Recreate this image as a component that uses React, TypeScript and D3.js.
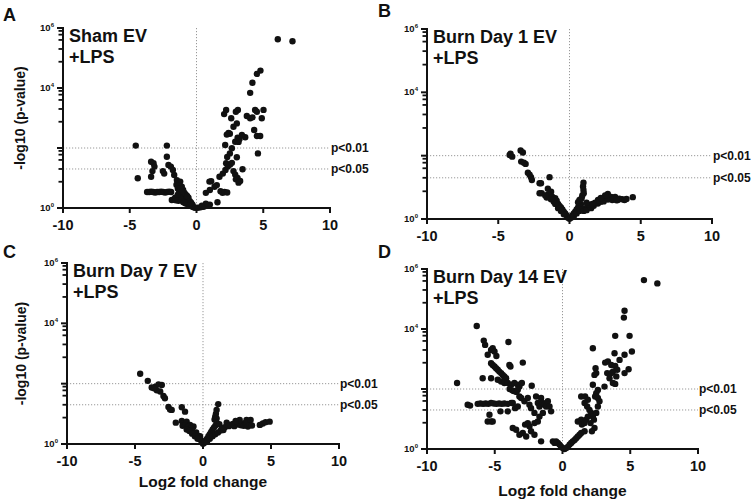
import React from 'react';
import * as d3 from 'd3';

// ---------- DATA ----------
// [log2 fold change, value on the log y axis]
const shamEV: [number, number][] = [
  [-4.55, 120], [-4.4, 9.8], [-2.22, 120], [-2.22, 51], [-3.4, 35], [-3.22, 31], [-3.15, 24], [-3.3, 17],
  [-3.4, 11], [-2.52, 17], [-2.42, 14], [-2.1, 27], [-1.92, 24], [-1.77, 18.5], [-1.67, 12.6], [-1.47, 8.5],
  [-1.22, 7.6], [-1.1, 5.1],
  [-3.7, 3.4], [-3.55, 3.4], [-3.4, 3.5], [-3.25, 3.4], [-3.1, 3.3], [-2.95, 3.4], [-2.8, 3.4], [-2.65, 3.5],
  [-2.5, 3.4], [-2.35, 3.3], [-2.2, 3.4], [-2.05, 3.5], [-1.9, 3.4],
  [-1.85, 1.85], [-1.7, 1.9], [-1.55, 1.8], [-1.35, 1.75],
  [-1.5, 6], [-1.35, 5.5], [-1.4, 4.5], [-1.3, 3.8], [-1.2, 3], [-1.1, 2.6], [-1.0, 2.2], [-0.9, 2],
  [-0.8, 1.8], [-0.7, 1.6], [-0.6, 1.4], [-0.5, 1.3], [-0.4, 1.2], [-0.3, 1.1], [-0.2, 1.05], [-1.0, 4],
  [-0.9, 3.2], [-0.8, 2.8], [-0.6, 2.2], [-1.2, 2], [-1.0, 1.6], [-0.8, 1.4], [-0.6, 1.2], [-1.6, 2.2],
  [-1.2, 4.5], [-1.1, 3.5], [-0.7, 2.5], [-0.5, 1.7], [-0.4, 1.5], [-0.3, 1.3], [-1.4, 2.8], [-0.9, 1.5],
  [-0.1, 1.02],
  [0.1, 1.02], [0.3, 1.05], [0.5, 1.1], [0.6, 1.15], [0.8, 1.2], [1.0, 1.3], [0.7, 1.4], [0.4, 1.2],
  [1.57, 1.55], [0.7, 3.2], [1.0, 4], [0.97, 7.6], [1.1, 7.8], [1.35, 5.1], [1.52, 5.8], [1.8, 3.6],
  [1.95, 3.2], [2.1, 3.4], [2.3, 3.3], [1.72, 11], [1.97, 14], [2.17, 18.5], [2.22, 31], [2.35, 24],
  [2.52, 28], [2.65, 32], [2.77, 17], [2.9, 13], [3.07, 10], [3.27, 8], [2.95, 9], [3.15, 7], [3.45, 19.5],
  [3.02, 49], [2.3, 50], [2.5, 66], [2.65, 98], [2.15, 126], [2.9, 162], [3.15, 160], [3.22, 200],
  [3.65, 228], [3.4, 270], [3.08, 220], [2.4, 316], [2.5, 300], [2.27, 280], [2.77, 513], [3.02, 660],
  [2.6, 977], [2.07, 1350], [2.22, 1860], [2.95, 1620], [3.1, 1860], [3.77, 1170], [4.02, 977],
  [4.19, 1050], [4.39, 1860], [4.52, 1620], [5.02, 1860], [4.89, 977], [4.32, 400], [4.52, 251],
  [4.77, 251], [4.6, 66], [4.02, 6900], [4.19, 15000], [4.52, 29500], [4.79, 38000], [6.09, 420000],
  [7.19, 360000],
];

const burnDay1EV: [number, number][] = [
  [-4.14, 115], [-4.02, 93], [-4.2, 105], [-3.43, 145], [-3.27, 126], [-3.39, 65], [-3.08, 55], [-3.2, 60],
  [-2.92, 29], [-2.8, 25], [-2.7, 21], [-2.64, 17], [-2.1, 13.5], [-2.0, 13.5], [-1.4, 21], [-2.1, 6.5],
  [-1.95, 6.5], [-1.52, 9], [-1.29, 7.3], [-1.5, 6], [-1.2, 5], [-1.0, 4.5], [-1.1, 3.5], [-0.9, 3.8],
  [-0.8, 3], [-0.7, 2.6], [-0.6, 2.3], [-0.5, 2], [-0.4, 1.7], [-0.3, 1.5], [-0.2, 1.3], [-0.1, 1.1],
  [-0.8, 2.2], [-0.6, 1.8], [-0.4, 1.4], [-1.3, 4.2], [-1.6, 4.8], [-1.7, 5.5], [-1.0, 3], [0, 1.02],
  [0.98, 14], [0.95, 10.6], [0.98, 8.3], [1.0, 6.5], [0.9, 5.5], [0.85, 4.5],
  [0.1, 1.1], [0.2, 1.3], [0.3, 1.5], [0.4, 1.7], [0.5, 2], [0.6, 2.3], [0.7, 2.6], [0.8, 3], [0.3, 1.2],
  [0.5, 1.5], [0.7, 1.8], [0.9, 2], [1.1, 2.2], [1.3, 2.4], [0.6, 3.4], [0.7, 4], [1.0, 1.8], [1.2, 1.9],
  [1.52, 2.2], [1.7, 2.6], [1.99, 3.1], [2.0, 4], [2.2, 3.5], [2.3, 4.2], [2.45, 4.5], [2.6, 5.1],
  [2.69, 6.2], [2.8, 4.8], [2.92, 5], [3.1, 4.6], [3.2, 5], [3.39, 4], [3.5, 4.4], [3.7, 4.2], [3.86, 4],
  [4.0, 4.3], [4.44, 4.9], [1.8, 3.3], [2.1, 3.8], [2.4, 3.6], [2.7, 4.1], [3.0, 4.0], [3.3, 3.9],
  [2.5, 5.5], [2.2, 4.6], [1.4, 2.8], [1.2, 3.3], [1.6, 3.0],
];

const burnDay7EV: [number, number][] = [
  [-4.62, 213], [-4.06, 124], [-3.77, 75], [-3.5, 80], [-3.27, 95], [-3.03, 90], [-3.15, 55], [-2.91, 39],
  [-2.8, 33], [-2.54, 17], [-2.42, 14], [-2.3, 13.5], [-1.56, 16.6], [-1.32, 11.8], [-2.0, 5.1],
  [-1.56, 5.8], [-1.44, 4.9], [-1.2, 5.5], [-0.95, 4.3], [-0.7, 3.8], [-0.5, 2.4], [-0.22, 1.8],
  [-1.5, 4], [-1.3, 4.2], [-1.1, 3.7], [-0.9, 3.2], [-0.8, 2.8], [-0.6, 2.3], [-0.4, 1.9], [-0.3, 1.6],
  [-0.2, 1.4], [-0.1, 1.2], [-1.2, 3], [-1.0, 2.7], [-0.8, 2.2], [-0.6, 1.8], [-0.4, 1.5], [-3.4, 60],
  [-3.6, 70], [0, 1.02],
  [1.12, 21], [1.0, 13.5], [0.95, 10], [0.9, 8], [0.85, 6.5], [1.0, 7],
  [0.1, 1.1], [0.2, 1.3], [0.3, 1.5], [0.4, 1.8], [0.5, 2.1], [0.6, 2.5], [0.7, 3], [0.8, 3.5], [0.9, 4],
  [0.3, 1.2], [0.5, 1.5], [0.7, 1.8], [0.9, 2.1], [1.1, 2.4], [1.3, 2.8], [1.0, 5], [1.2, 4.5], [1.4, 3.2],
  [1.74, 5.1], [1.6, 3.6], [1.9, 3.9], [2.0, 4.3], [2.2, 4.6], [2.3, 3.9], [2.4, 4.8], [2.5, 5.2],
  [2.6, 4.4], [2.7, 4.9], [2.8, 4.2], [2.9, 4.6], [3.0, 4.0], [3.1, 5.0], [3.2, 4.3], [3.3, 3.8],
  [3.4, 4.5], [2.7, 6.3], [3.2, 6.3], [3.5, 6.3], [2.4, 5.8], [4.18, 4.3], [4.4, 4.8], [4.6, 5.3],
  [4.9, 5.5], [3.6, 4.1], [1.5, 2.9],
];

const burnDay14EV: [number, number][] = [
  [6.01, 427000], [7.0, 331000], [4.58, 40700], [4.53, 24000], [3.89, 5900], [4.95, 5900], [2.24, 2290],
  [5.12, 1780], [3.84, 1550], [4.58, 1380], [4.21, 933], [3.35, 832], [3.15, 759], [3.6, 631], [3.89, 589],
  [4.88, 457], [4.04, 437], [3.72, 380], [3.3, 339], [3.6, 339], [4.58, 339], [2.44, 490], [2.49, 339],
  [2.36, 295], [3.97, 263], [3.47, 229], [3.72, 158], [3.89, 148], [2.24, 138], [3.1, 120], [2.61, 93],
  [2.49, 72], [2.41, 56], [2.61, 50], [2.73, 39], [1.38, 56], [1.67, 56], [1.87, 44], [1.63, 34],
  [1.82, 26], [1.99, 20], [2.12, 16], [2.24, 12], [2.32, 9.5], [2.49, 16], [2.61, 26], [1.13, 8.3],
  [1.38, 9.5], [1.43, 6.5], [1.63, 7.3], [1.75, 9.5], [1.87, 12], [2.07, 7.3], [2.36, 5], [2.17, 3.9],
  [0.52, 1.4], [0.64, 1.6], [0.76, 1.8], [0.89, 2], [1.01, 2.3], [1.13, 2.6], [1.26, 3], [1.38, 3.4],
  [1.63, 3.9], [-0.1, 1.2], [0.02, 1.07], [0.15, 1], [0.27, 1.07], [0.39, 1.17], [-0.22, 1.4],
  [-0.34, 1.6], [-0.47, 1.8], [-0.71, 1.8], [-0.59, 1.6],
  [-6.33, 12600], [-5.81, 4100], [-3.99, 3700], [-5.71, 2950], [-5.15, 2290], [-5.27, 2000],
  [-5.02, 1780], [-5.52, 1380], [-4.88, 1260], [-5.27, 724], [-5.15, 631], [-5.02, 562], [-4.9, 490],
  [-4.78, 437], [-4.66, 380], [-4.53, 339], [-4.41, 295], [-4.29, 263], [-4.16, 229], [-3.92, 631],
  [-3.84, 562], [-2.93, 759], [-5.89, 229], [-5.27, 229], [-4.78, 204], [-4.53, 178], [-4.29, 158],
  [-4.04, 158], [-3.79, 138], [-3.55, 158], [-3.3, 138], [-3.18, 120], [-3.0, 158], [-7.78, 158],
  [-2.27, 129], [-7.0, 30], [-6.82, 28],
  [-6.26, 32], [-6.06, 33], [-5.86, 32], [-5.67, 33], [-5.47, 32], [-5.27, 34], [-5.07, 33], [-4.88, 32],
  [-4.68, 33], [-4.48, 32], [-4.29, 33], [-4.04, 32], [-3.79, 34],
  [-5.39, 13.8], [-5.52, 8.3], [-5.27, 8.3], [-5.15, 8.3], [-4.58, 18], [-4.04, 18], [-3.67, 5],
  [-3.42, 4.4], [-3.18, 3], [-2.93, 3.4], [-2.68, 2.6], [-2.32, 3.9], [-2.07, 3], [-1.58, 1.8],
  [-2.44, 5.7], [-2.07, 7.3], [-1.82, 8.3], [-1.7, 12], [-1.45, 16], [-3.18, 56], [-3.05, 50],
  [-2.81, 39], [-2.56, 50], [-2.44, 30], [-2.32, 23], [-2.07, 16], [-1.95, 56], [-1.82, 34], [-1.7, 26],
  [-1.58, 50], [-1.45, 34], [-1.33, 30], [-1.21, 26], [-1.08, 39], [-0.96, 26], [-0.84, 18],
  [-3.67, 34], [-3.5, 23], [-3.3, 26], [-2.76, 6.5], [-2.56, 7.3],
  [-3.9, 100], [-3.7, 90], [-3.6, 85], [-3.4, 80], [-3.3, 95],
];

const xTicks = [-10, -5, 0, 5, 10];
const yMajorTicks = [1, 1e2, 1e4, 1e6];
const yLabelledTicks = [
  { value: 1, exp: '0' },
  { value: 1e4, exp: '4' },
  { value: 1e6, exp: '6' },
];
const yMinorFactors = [7.5, 20, 40, 60, 80];
const thresholds = [
  { label: 'p<0.01', value: 100 },
  { label: 'p<0.05', value: 20 },
];

// ---------- LAYOUT ----------
const FONT = "'Liberation Sans', Arial, Helvetica, sans-serif";

type Cfg = {
  letter: string; lx: number; ly: number;
  title: string;
  x0: number; x1: number; yTop: number; yBot: number;
  yLabelX?: number; xLabelY?: number;
  data: [number, number][];
};

const panels: Cfg[] = [
  { letter: 'A', lx: 3, ly: 21, title: 'Sham EV', x0: 63, x1: 330, yTop: 28, yBot: 208, yLabelX: 20, data: shamEV },
  { letter: 'B', lx: 378, ly: 17, title: 'Burn Day 1 EV', x0: 427, x1: 712, yTop: 29, yBot: 219, data: burnDay1EV },
  { letter: 'C', lx: 3, ly: 258, title: 'Burn Day 7 EV', x0: 67, x1: 339, yTop: 263, yBot: 444, yLabelX: 21, xLabelY: 487, data: burnDay7EV },
  { letter: 'D', lx: 378, ly: 258, title: 'Burn Day 14 EV', x0: 427, x1: 698, yTop: 269, yBot: 449, xLabelY: 496, data: burnDay14EV },
];

function Panel({ cfg }: { cfg: Cfg }) {
  const x = d3.scaleLinear().domain([-10, 10]).range([cfg.x0, cfg.x1]);
  const y = d3.scaleLog().domain([1, 1e6]).range([cfg.yBot, cfg.yTop]);
  const minor: number[] = [];
  [1, 1e2, 1e4].forEach((b) => yMinorFactors.forEach((f) => minor.push(b * f)));
  const ink = '#111';
  return (
    <g>
      <text x={cfg.lx} y={cfg.ly} fontFamily={FONT} fontWeight="bold" fontSize={18} fill={ink}>{cfg.letter}</text>
      {/* reference lines */}
      <line x1={x(0)} x2={x(0)} y1={cfg.yTop} y2={cfg.yBot} stroke="#999" strokeWidth={1} strokeDasharray="1.2,1.8" />
      {thresholds.map((t) => (
        <g key={t.label}>
          <line x1={cfg.x0} x2={cfg.x1} y1={y(t.value)} y2={y(t.value)} stroke="#999" strokeWidth={1} strokeDasharray="1.2,1.8" />
          <text x={cfg.x1 + 1} y={y(t.value) + 4} fontFamily={FONT} fontWeight="bold" fontSize={12} fill={ink}>{t.label}</text>
        </g>
      ))}
      {/* points */}
      {cfg.data.map((d, i) => (
        <circle key={i} cx={x(d[0])} cy={y(d[1])} r={3.2} fill={ink} />
      ))}
      {/* axes */}
      <line x1={cfg.x0} x2={cfg.x0} y1={cfg.yTop - 1} y2={cfg.yBot + 5} stroke={ink} strokeWidth={2} />
      <line x1={cfg.x0 - 1} x2={cfg.x1 + 1} y1={cfg.yBot} y2={cfg.yBot} stroke={ink} strokeWidth={2} />
      {xTicks.map((t) => (
        <g key={t}>
          <line x1={x(t)} x2={x(t)} y1={cfg.yBot} y2={cfg.yBot + 5} stroke={ink} strokeWidth={2} />
          <text x={x(t)} y={cfg.yBot + 22} textAnchor="middle" fontFamily={FONT} fontWeight="bold" fontSize={14.5} fill={ink}>{t}</text>
        </g>
      ))}
      {yMajorTicks.map((t) => (
        <line key={t} x1={cfg.x0 - 6} x2={cfg.x0} y1={y(t)} y2={y(t)} stroke={ink} strokeWidth={2} />
      ))}
      {minor.map((t, i) => (
        <line key={'m' + i} x1={cfg.x0 - 4.5} x2={cfg.x0} y1={y(t)} y2={y(t)} stroke={ink} strokeWidth={1.8} />
      ))}
      {yLabelledTicks.map((t) => (
        <text key={t.exp} x={cfg.x0 - 9} y={y(t.value) + 3} textAnchor="end" fontFamily={FONT} fontWeight="bold" fontSize={9.5} fill={ink}>
          10<tspan dy={-4} fontSize={6}>{t.exp}</tspan>
        </text>
      ))}
      {/* title */}
      <text x={cfg.x0 + 6} y={cfg.yTop + 14} fontFamily={FONT} fontWeight="bold" fontSize={18} fill={ink}>{cfg.title}</text>
      <text x={cfg.x0 + 6} y={cfg.yTop + 35} fontFamily={FONT} fontWeight="bold" fontSize={18} fill={ink}>+LPS</text>
      {cfg.yLabelX !== undefined && (
        <text
          transform={`translate(${cfg.yLabelX},${(cfg.yTop + cfg.yBot) / 2}) rotate(-90)`}
          textAnchor="middle" dy={5} fontFamily={FONT} fontWeight="bold" fontSize={14} fill={ink}
        >-log10 (p-value)</text>
      )}
      {cfg.xLabelY !== undefined && (
        <text x={x(0)} y={cfg.xLabelY} textAnchor="middle" fontFamily={FONT} fontWeight="bold" fontSize={15.5} fill={ink}>Log2 fold change</text>
      )}
    </g>
  );
}

export default function App() {
  return (
    <svg width={755} height={500} viewBox="0 0 755 500" style={{ position: 'absolute', left: 0, top: 0, background: '#fff' }}>
      <rect x={0} y={0} width={755} height={500} fill="#fff" />
      {panels.map((p) => (
        <Panel key={p.letter} cfg={p} />
      ))}
    </svg>
  );
}
